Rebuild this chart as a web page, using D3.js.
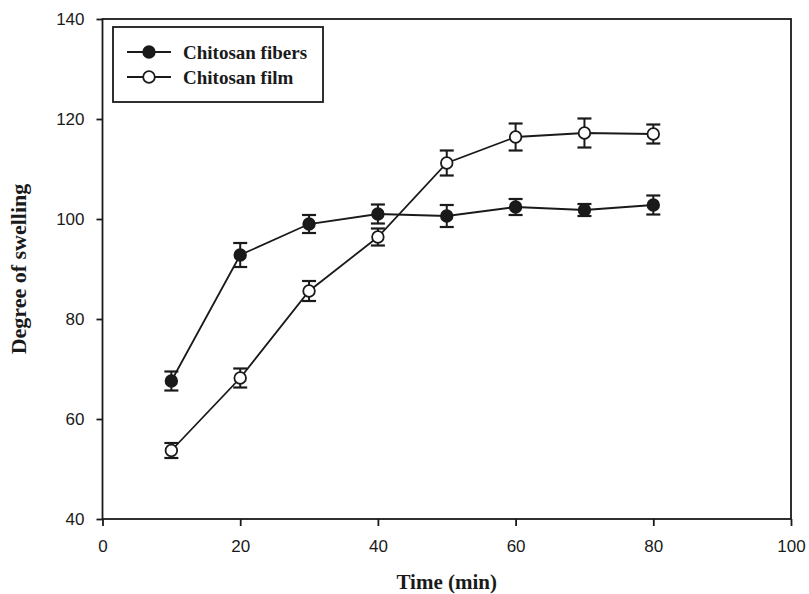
<!DOCTYPE html>
<html><head><meta charset="utf-8">
<script src="https://cdn.jsdelivr.net/npm/d3@7"></script>
<style>body{margin:0;background:#fff}svg{display:block}</style>
</head><body><svg id="c" width="809" height="594"></svg>
<script>
const times = [10, 20, 30, 40, 50, 60, 70, 80];
const fibers = [67.6, 92.8, 99.0, 101.0, 100.6, 102.4, 101.8, 102.8];
const fibersErr = [1.9, 2.4, 1.8, 1.9, 2.2, 1.6, 1.2, 1.9];
const film = [53.7, 68.2, 85.6, 96.4, 111.2, 116.4, 117.2, 117.0];
const filmErr = [1.5, 1.9, 2.0, 1.7, 2.5, 2.7, 2.9, 1.9];
const xTicks = [0, 20, 40, 60, 80, 100];
const yTicks = [40, 60, 80, 100, 120, 140];
const seriesNames = ["Chitosan fibers", "Chitosan film"];

const svg = d3.select("#c");
const L = 102.5, R = 791, T = 19, B = 519;
const x = d3.scaleLinear().domain([0, 100]).range([L, R]);
const y = d3.scaleLinear().domain([40, 140]).range([B, T]);
const ink = "#1a1a1a";

svg.append("rect").attr("x", L).attr("y", T).attr("width", R - L).attr("height", B - T)
  .attr("fill", "none").attr("stroke", ink).attr("stroke-width", 1.8);

const xa = svg.append("g").attr("transform", `translate(0,${B})`)
  .call(d3.axisBottom(x).tickValues(xTicks).tickSize(7).tickPadding(14).tickFormat(d3.format("d")));
const ya = svg.append("g").attr("transform", `translate(${L},0)`)
  .call(d3.axisLeft(y).tickValues(yTicks).tickSize(6).tickPadding(12).tickFormat(d3.format("d")));
[xa, ya].forEach(a => {
  a.select(".domain").remove();
  a.selectAll("line").attr("stroke", ink).attr("stroke-width", 1.8);
  a.selectAll("text").attr("fill", ink).attr("font-family", "Liberation Sans, Arial, sans-serif").attr("font-size", 17);
});

const series = [
  {name: seriesNames[0], vals: fibers, err: fibersErr, fill: ink},
  {name: seriesNames[1], vals: film, err: filmErr, fill: "#fff"}
];
const line = d3.line().x(d => x(d[0])).y(d => y(d[1]));
series.forEach(s => {
  const pts = times.map((t, i) => [t, s.vals[i], s.err[i]]);
  svg.append("path").datum(pts).attr("d", line).attr("fill", "none").attr("stroke", ink).attr("stroke-width", 1.8);
  const g = svg.append("g");
  pts.forEach(p => {
    const cx = x(p[0]);
    g.append("line").attr("x1", cx).attr("x2", cx).attr("y1", y(p[1] - p[2])).attr("y2", y(p[1] + p[2])).attr("stroke", ink).attr("stroke-width", 2);
    [p[1] - p[2], p[1] + p[2]].forEach(v => g.append("line").attr("x1", cx - 7).attr("x2", cx + 7).attr("y1", y(v)).attr("y2", y(v)).attr("stroke", ink).attr("stroke-width", 2.2));
    g.append("circle").attr("cx", cx).attr("cy", y(p[1])).attr("r", 5.8).attr("fill", s.fill).attr("stroke", ink).attr("stroke-width", 1.8);
  });
});

const lg = svg.append("g");
lg.append("rect").attr("x", 113).attr("y", 27).attr("width", 210).attr("height", 75).attr("fill", "#fff").attr("stroke", ink).attr("stroke-width", 1.8);
series.forEach((s, i) => {
  const yy = 52 + i * 25;
  lg.append("line").attr("x1", 127).attr("x2", 171).attr("y1", yy).attr("y2", yy).attr("stroke", ink).attr("stroke-width", 1.8);
  lg.append("circle").attr("cx", 149).attr("cy", yy).attr("r", 5.8).attr("fill", s.fill).attr("stroke", ink).attr("stroke-width", 1.8);
  lg.append("text").attr("x", 183).attr("y", yy).attr("dy", "0.35em").text(s.name)
    .attr("font-family", "Liberation Serif, Times New Roman, serif").attr("font-weight", "bold").attr("font-size", 19).attr("fill", ink);
});

svg.append("text").attr("x", (L + R) / 2).attr("y", 589).attr("text-anchor", "middle").text("Time (min)")
  .attr("font-family", "Liberation Serif, Times New Roman, serif").attr("font-weight", "bold").attr("font-size", 21).attr("fill", ink);
svg.append("text").attr("transform", `translate(26,${(T + B) / 2}) rotate(-90)`).attr("text-anchor", "middle").text("Degree of swelling")
  .attr("font-family", "Liberation Serif, Times New Roman, serif").attr("font-weight", "bold").attr("font-size", 22).attr("fill", ink);
</script></body></html>
